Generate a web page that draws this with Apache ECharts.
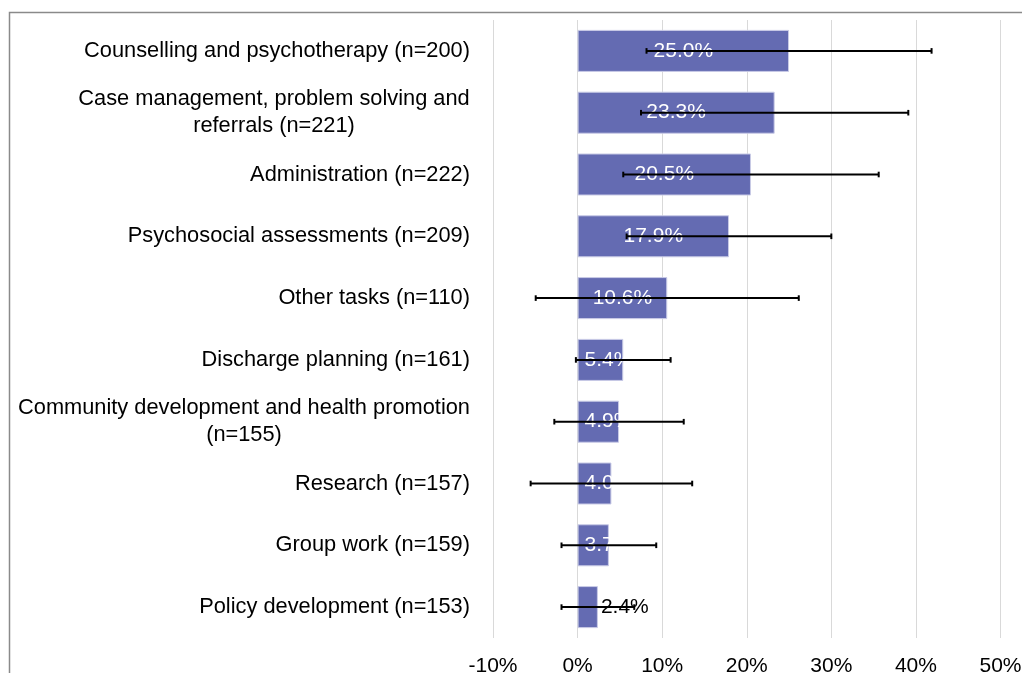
<!DOCTYPE html>
<html><head><meta charset="utf-8">
<script src="https://cdn.jsdelivr.net/npm/echarts@6/dist/echarts.min.js"></script>
<style>html,body{margin:0;padding:0;background:#fff}#c{width:1022px;height:673px}</style>
</head><body><div id="c"></div>
<script>
const categories = [
  'Counselling and psychotherapy (n=200)',
  'Case management, problem solving and\nreferrals (n=221)',
  'Administration (n=222)',
  'Psychosocial assessments (n=209)',
  'Other tasks (n=110)',
  'Discharge planning (n=161)',
  'Community development and health promotion\n(n=155)',
  'Research (n=157)',
  'Group work (n=159)',
  'Policy development (n=153)'
];
const values = [25.0, 23.3, 20.5, 17.9, 10.6, 5.4, 4.9, 4.0, 3.7, 2.4];
const errors = [16.85, 15.8, 15.1, 12.1, 15.55, 5.6, 7.65, 9.55, 5.6, 4.3];
const xTickMin = -10, xTickMax = 50, xTickStep = 10;

const FONT = '"Liberation Sans", Arial, sans-serif';
const FS = 21, CFS = 21.8;
const ctx = document.createElement('canvas').getContext('2d');
ctx.font = CFS + 'px "Liberation Sans"';
const rich = {};
const labelText = categories.map((c, i) => {
  const lines = c.split('\n');
  if (lines.length === 1) return c;
  const w = Math.ceil(Math.max(...lines.map(l => ctx.measureText(l).width)));
  rich['w' + i] = { width: w, align: 'center', fontSize: CFS, lineHeight: 27, color: '#000', fontFamily: FONT };
  return lines.map(l => '{w' + i + '|' + l + '}').join('\n');
});

function labelFor(v) {
  if (v < 3) return { position: 'right', distance: 3, color: '#000' };
  if (v < 6) return { position: 'insideLeft', distance: 7 };
  return {};
}

const chart = echarts.init(document.getElementById('c'), null, { renderer: 'canvas' });
chart.setOption({
  animation: false,
  backgroundColor: '#fff',
  textStyle: { fontFamily: FONT },
  graphic: [{
    type: 'rect', silent: true, z: -10,
    shape: { x: 9.5, y: 12.5, width: 2000, height: 2000 },
    style: { fill: 'transparent', stroke: '#8a8a8a', lineWidth: 1.5 }
  }],
  grid: { left: 493, right: 21.5, top: 20, bottom: 35, containLabel: false, outerBoundsMode: 'none' },
  xAxis: {
    type: 'value', min: xTickMin, max: xTickMax, interval: xTickStep,
    axisLine: { show: false }, axisTick: { show: false },
    splitLine: { show: true, lineStyle: { color: '#d9d9d9', width: 1 } },
    axisLabel: { fontSize: FS, color: '#000', margin: 18, fontFamily: FONT, formatter: v => v + '%' }
  },
  yAxis: {
    type: 'category', inverse: true, data: labelText,
    axisLine: { show: false }, axisTick: { show: false }, splitLine: { show: false },
    axisLabel: { fontSize: CFS, color: '#000', margin: 23, fontFamily: FONT, rich: rich, lineHeight: 27 }
  },
  series: [{
    type: 'bar', z: 2,
    barWidth: '68%',
    data: values.map(v => ({ value: v, label: labelFor(v) })),
    itemStyle: { color: '#646bb2', borderColor: '#c9cbe6', borderWidth: 1 },
    label: { show: true, position: 'inside', color: '#fff', fontSize: FS, fontFamily: FONT,
      formatter: p => p.value.toFixed(1) + '%' }
  }, {
    type: 'custom', z: 5,
    data: values.map((v, i) => [v - errors[i], v + errors[i], i]),
    encode: { x: [0, 1], y: 2 },
    renderItem: (params, api) => {
      const lo = api.coord([api.value(0), api.value(2)]);
      const hi = api.coord([api.value(1), api.value(2)]);
      const y = lo[1], c = 2.8;
      const st = { stroke: '#000', lineWidth: 2 };
      return { type: 'group', children: [
        { type: 'line', shape: { x1: lo[0], y1: y, x2: hi[0], y2: y }, style: st },
        { type: 'line', shape: { x1: lo[0], y1: y - c, x2: lo[0], y2: y + c }, style: st },
        { type: 'line', shape: { x1: hi[0], y1: y - c, x2: hi[0], y2: y + c }, style: st }
      ]};
    }
  }]
});
</script></body></html>
